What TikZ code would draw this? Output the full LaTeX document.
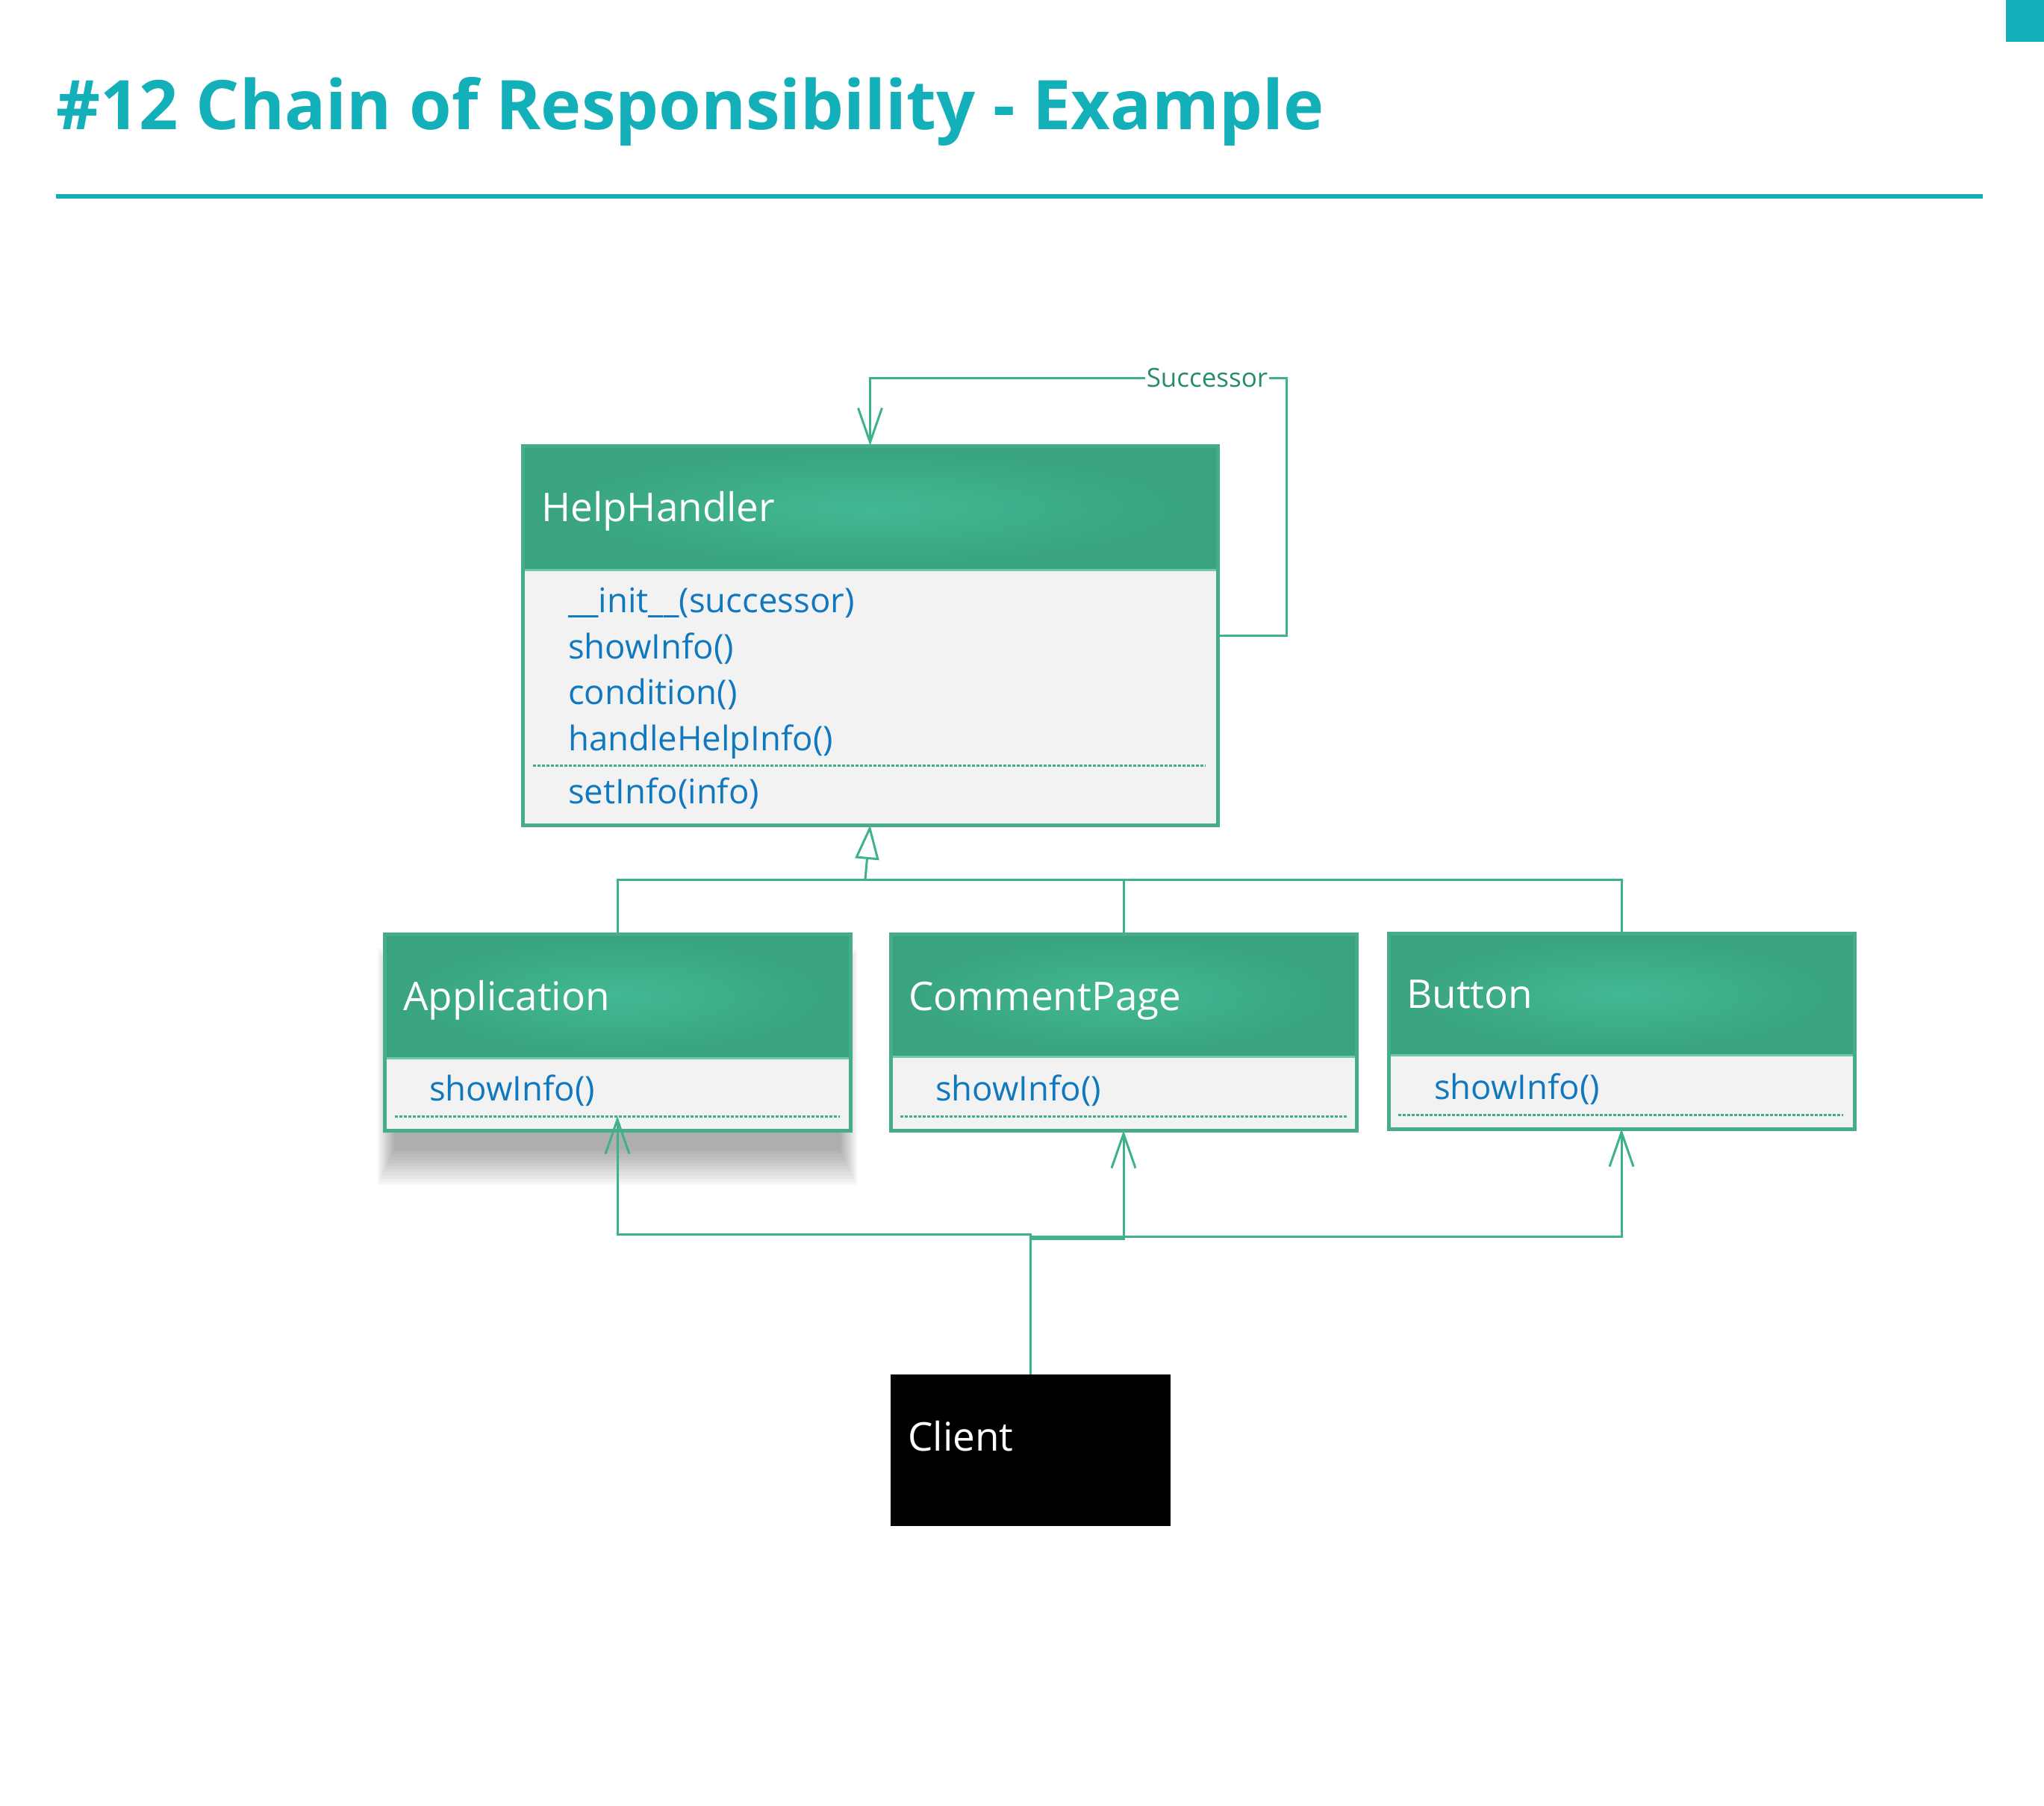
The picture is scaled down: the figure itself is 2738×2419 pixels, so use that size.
\documentclass[tikz,border=0pt]{standalone}
\usepackage{fontspec}
\setmainfont{Open Sans}
\usetikzlibrary{arrows.meta,calc}

\definecolor{titlecol}{RGB}{20,176,185}
\definecolor{linecol}{RGB}{62,178,140}
\definecolor{bordercol}{RGB}{70,172,140}
\definecolor{seplinecol}{RGB}{110,200,170}
\definecolor{headin}{RGB}{66,184,147}
\definecolor{headout}{RGB}{57,162,128}
\definecolor{bodyfill}{RGB}{242,242,242}
\definecolor{membercol}{RGB}{16,120,190}
\definecolor{succcol}{RGB}{40,140,105}

\tikzset{
  conn/.style={draw=linecol, line width=3pt},
  barb/.style={-{Straight Barb[length=46pt,width=32pt]}},
  gentip/.style={-{Triangle[open,length=46pt,width=32pt,fill=white]}},
  classbody/.style={fill=bodyfill, inner sep=0pt, outer sep=0pt, anchor=north west},
  classhead/.style={inner color=headin, outer color=headout, inner sep=0pt, outer sep=0pt, anchor=north west},
  frame/.style={draw=bordercol, line width=5pt},
  sepline/.style={draw=seplinecol, line width=3pt},
  memberline/.style={draw=bordercol, line width=3pt, dash pattern=on 4pt off 2pt},
  headtext/.style={text=white, font=\fontsize{53}{60}\selectfont, inner sep=0pt, anchor=base west},
  member/.style={text=membercol, font=\fontsize{45.5}{52}\selectfont, inner sep=0pt, anchor=base west},
  succlabel/.style={text=succcol, fill=white, font=\fontsize{35}{40}\selectfont, inner sep=2pt},
}

\begin{document}
\begin{tikzpicture}[x=1pt,y=-1pt]
\useasboundingbox (0,0) rectangle (2738,2419);

% heading
\node[anchor=base west, inner sep=0pt, text=titlecol, font=\fontsize{91.6}{110}\selectfont\bfseries] (title) at (75,174) {\#12 Chain of Responsibility - Example};
\draw[titlecol, line width=6pt] (75,263) -- (2656,263);
\fill[titlecol] (2687,0) rectangle (2738,56);

% soft shadow under Application
\foreach \k in {0,...,11}{
  \pgfmathsetmacro\r{25-50*\k/12}
  \pgfmathsetmacro\rh{12-24*\k/12}
  \pgfmathsetmacro\xa{518-\rh}
  \pgfmathsetmacro\xb{1136+\rh}
  \pgfmathsetmacro\ya{1296-\r}
  \pgfmathsetmacro\yb{1562+\r}
  \fill[black, opacity=0.033] (\xa,\ya) rectangle (\xb,\yb);
}

% HelpHandler
\node[classbody, minimum width=931pt, minimum height=508pt] (hh) at (700,597) {};
\node[classhead, minimum width=931pt, minimum height=166pt] (hhhead) at (hh.north west) {};
\draw[sepline] (hhhead.south west) -- (hhhead.south east);
\draw[memberline] (714,1025) -- (1615,1025);
\draw[frame] (hh.north west) rectangle (hh.south east);
\node[headtext] (hhname) at (725,698) {HelpHandler};
\node[member] (hhm1) at (761,820) {\_\_init\_\_(successor)};
\node[member] (hhm2) at (761,882) {showInfo()};
\node[member] (hhm3) at (761,943) {condition()};
\node[member] (hhm4) at (761,1005) {handleHelpInfo()};
\node[member] (hhm5) at (761,1076) {setInfo(info)};

% Application
\node[classbody, minimum width=624pt, minimum height=263pt] (app) at (515,1251) {};
\node[classhead, minimum width=624pt, minimum height=166pt] (apphead) at (app.north west) {};
\draw[sepline] (apphead.south west) -- (apphead.south east);
\draw[memberline] (529,1495) -- (1125,1495);
\draw[frame] (app.north west) rectangle (app.south east);
\node[headtext] (appname) at (540,1353) {Application};
\node[member] (appm1) at (575,1474) {showInfo()};
\coordinate (appdash) at (827,1495);

% CommentPage
\node[classbody, minimum width=624pt, minimum height=263pt] (cp) at (1193,1251) {};
\node[classhead, minimum width=624pt, minimum height=164pt] (cphead) at (cp.north west) {};
\draw[sepline] (cphead.south west) -- (cphead.south east);
\draw[memberline] (1206,1495) -- (1804,1495);
\draw[frame] (cp.north west) rectangle (cp.south east);
\node[headtext] (cpname) at (1217,1353) {CommentPage};
\node[member] (cpm1) at (1253,1474) {showInfo()};

% Button
\node[classbody, minimum width=624pt, minimum height=262pt] (btn) at (1860,1250) {};
\node[classhead, minimum width=624pt, minimum height=163pt] (btnhead) at (btn.north west) {};
\draw[sepline] (btnhead.south west) -- (btnhead.south east);
\draw[memberline] (1873,1493) -- (2469,1493);
\draw[frame] (btn.north west) rectangle (btn.south east);
\node[headtext] (btnname) at (1884,1350) {Button};
\node[member] (btnm1) at (1921,1472) {showInfo()};

% Client
\node[fill=black, inner sep=0pt, anchor=north west, minimum width=375pt, minimum height=203pt] (client) at (1193,1841) {};
\node[headtext] (clientname) at (1216,1943) {Client};

% successor self-association
\draw[conn, barb] (hh.east) -- ++(92,0) |- ($(hh.north)+(0,-91)$) -- (hh.north);
\node[succlabel] (succ) at (1617,506) {Successor};

% generalization
\coordinate (gen) at (1159,1178);
\draw[conn] (app.north) |- (btn.north |- gen) -- (btn.north);
\draw[conn] (cp.north) -- (cp.north |- gen);
\draw[conn, gentip] (gen) -- (hh.south);

% client associations
\draw[conn, barb] (client.north) -- (client.north |- 0,1653) -| (appdash);
\draw[conn, barb] (client.north) -- (client.north |- 0,1659) -| (cp.south);
\draw[conn, barb] (client.north) -- (client.north |- 0,1656) -| (btn.south);
\end{tikzpicture}
\end{document}
